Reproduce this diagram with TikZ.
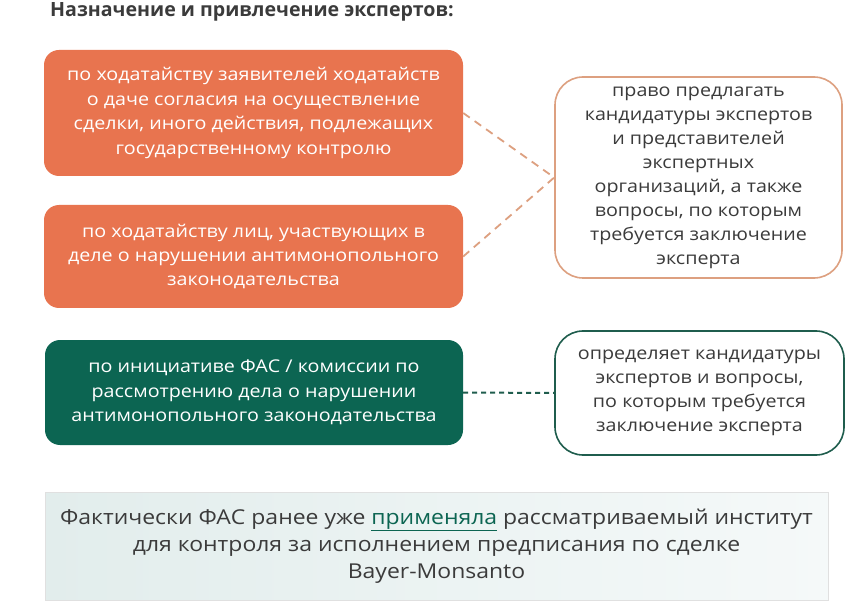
\documentclass[tikz,border=0pt]{standalone}
\usepackage{fontspec}
\setmainfont[FakeStretch=1.12]{Open Sans}
\newfontfamily\titlefont{Open Sans}
\definecolor{orng}{HTML}{E8744F}
\definecolor{orngline}{HTML}{DDA080}
\definecolor{grn}{HTML}{0C6552}
\definecolor{grnline}{HTML}{1F5D4D}
\definecolor{txt}{HTML}{3B3B3B}
\definecolor{mint}{HTML}{E2EDEC}
\definecolor{mintb}{HTML}{F5F9F9}
\tikzset{
  filledbox/.style={rounded corners=15pt, align=center, text=white, font=\fontsize{17.6}{24.4}\selectfont, inner sep=0pt},
  outlinebox/.style={rounded corners=28pt, align=center, text=txt, fill=white, line width=1.6pt, font=\fontsize{17.6}{24}\selectfont, inner sep=0pt},
  orangedash/.style={draw=orngline, line width=1.8pt, dash pattern=on 8pt off 6pt},
  greendash/.style={draw=grnline, line width=2pt, dash pattern=on 5pt off 4pt},
}
\begin{document}
\begin{tikzpicture}[x=1pt,y=-1pt]
\useasboundingbox (0,0) rectangle (864,609);
\fill[white] (0,0) rectangle (864,609);
\node[font=\titlefont\bfseries\fontsize{19.6}{22}\selectfont, text=txt, anchor=west, inner sep=0pt] (title) at (50,12) {Назначение и привлечение экспертов:};
\node[filledbox, fill=orng, minimum width=419pt, minimum height=126pt] (b1) at (253.5,113)
  {по ходатайству заявителей ходатайств\\о даче согласия на осуществление\\сделки, иного действия, подлежащих\\государственному контролю};
\node[filledbox, fill=orng, minimum width=419pt, minimum height=103pt] (b2) at (253.5,256.5)
  {по ходатайству лиц, участвующих в\\деле о нарушении антимонопольного\\законодательства};
\node[filledbox, fill=grn, minimum width=418pt, minimum height=105pt] (g) at (254,392.5)
  {по инициативе ФАС / комиссии по\\рассмотрению дела о нарушении\\антимонопольного законодательства};
\node[outlinebox, draw=orngline, minimum width=287pt, minimum height=201pt] (r1) at (698.5,177.5)
  {право предлагать\\кандидатуры экспертов\\и представителей\\экспертных\\организаций, а также\\вопросы, по которым\\требуется заключение\\эксперта};
\node[outlinebox, draw=grnline, minimum width=289pt, minimum height=124pt] (r2) at (699.5,393)
  {определяет кандидатуры\\экспертов и вопросы,\\по которым требуется\\заключение эксперта};
\draw[orangedash] (b1.east) -- (r1.west);
\draw[orangedash] (b2.east) -- (r1.west);
\draw[greendash] (g.east) -- (r2.west);
\node[draw=black!12, line width=0.6pt, left color=mint, right color=mintb, minimum width=783pt, minimum height=108pt, align=center, text=txt, font=\fontsize{20.5}{27}\selectfont, inner sep=0pt] (note) at (436.5,546)
  {Фактически ФАС ранее уже {\color{grn}\underline{применяла}} рассматриваемый институт\\для контроля за исполнением предписания по сделке\\Bayer-Monsanto};
\end{tikzpicture}
\end{document}
